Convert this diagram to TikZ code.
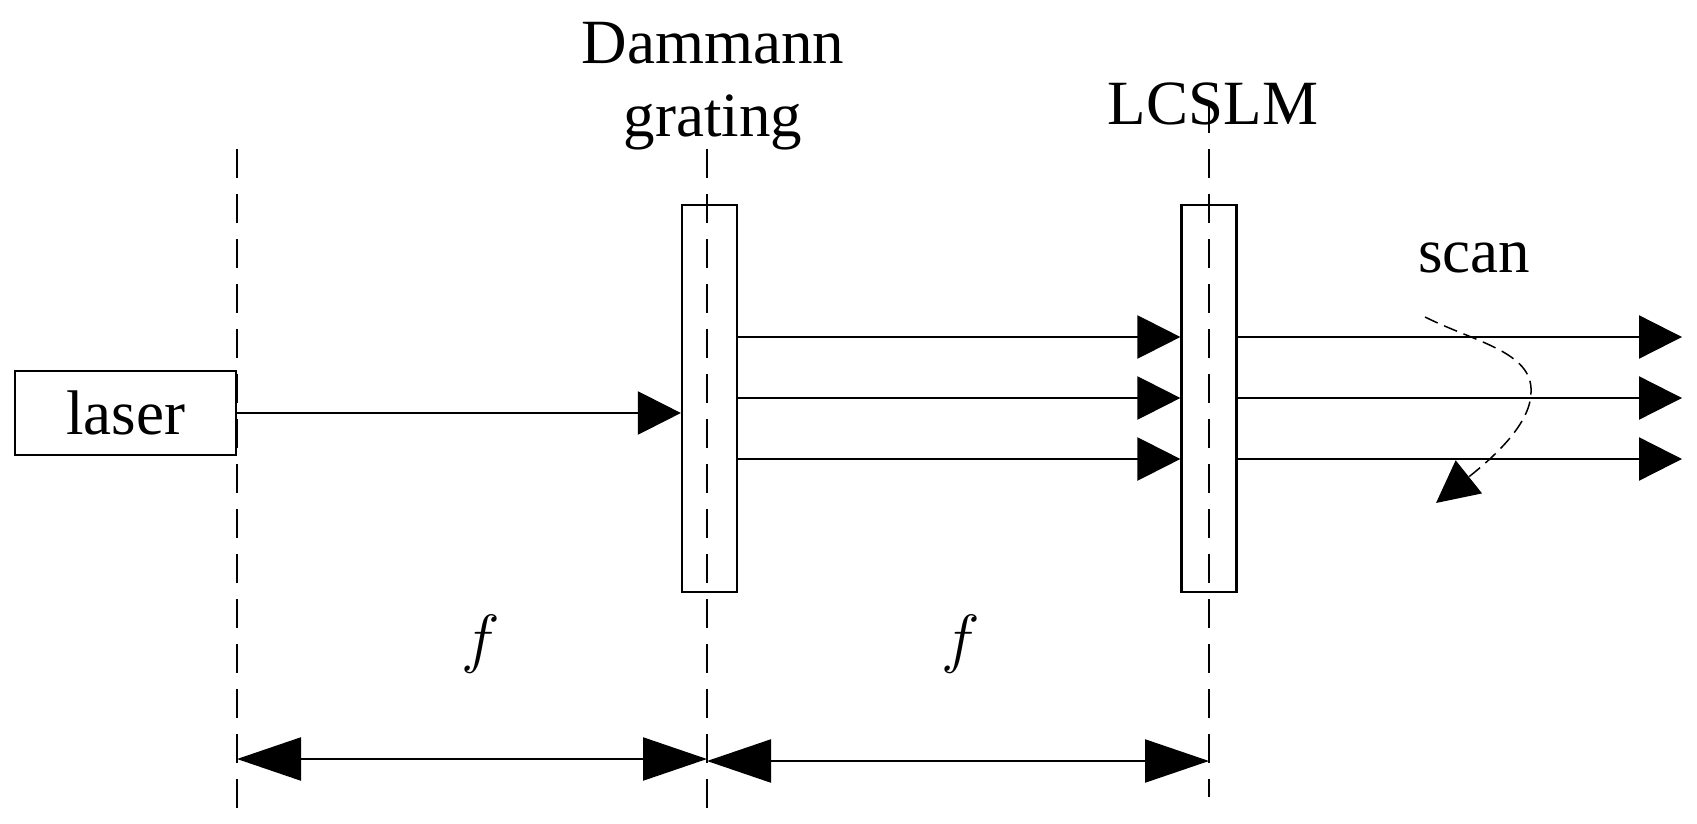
\documentclass[tikz,border=0pt]{standalone}
\usepackage{graphicx}
\usepackage{fontspec}
\setmainfont{Liberation Serif}
\usetikzlibrary{arrows.meta}
\newcommand{\flabel}{\resizebox{!}{22.7pt}{$f$}}
\begin{document}
\begin{tikzpicture}[x=0.5pt,y=-0.5pt,
  txt/.style={font=\fontsize{31.5}{31.5}\selectfont, inner sep=0pt},
  plate/.style={draw, line width=1.1pt, minimum width=27.5pt, minimum height=193.5pt, inner sep=0pt},
  axisline/.style={line width=0.8pt, dash pattern=on 14.5pt off 8pt},
  beam/.style={line width=1.15pt, -{Triangle[length=21.5pt,width=21.5pt]}},
  dimline/.style={line width=1.15pt, {Triangle[length=32pt,width=21.5pt]}-{Triangle[length=32pt,width=21.5pt]}},
  scanline/.style={line width=0.75pt, dash pattern=on 7pt off 3.5pt, -{Triangle[length=21pt,width=21pt]}}
]
\useasboundingbox (0,0) rectangle (1697,824);
% elements
\node[draw, line width=1.1pt, minimum width=110.5pt, minimum height=42pt, inner sep=0pt, txt] (laser) at (125.5,413) {laser};
\node[plate] (grating) at (709.5,398.5) {};
\node[plate] (lcslm) at (1209,398.5) {};
% labels
\node[txt, anchor=base] (dam) at (713,64) {Dammann};
\node[txt, anchor=base] (grt) at (713,137) {grating};
\node[txt, anchor=base] (lcs) at (1213,125) {LCSLM};
\node[txt, anchor=base] (scan) at (1474,272) {scan};
\node[txt] (f1) at (481,644) {\flabel};
\node[txt] (f2) at (961,644) {\flabel};
% optical axes
\coordinate (a1t) at (237,149); \coordinate (a1b) at (237,808);
\coordinate (a2t) at (707,149); \coordinate (a2b) at (707,808);
\coordinate (a3t) at (1209,104); \coordinate (a3b) at (1209,797);
\draw[axisline] (a1t) -- (a1b);
\draw[axisline] (a2t) -- (a2b);
\draw[axisline] (a3t) -- (a3b);
% beams
\draw[beam] (laser.east) -- (laser.east -| grating.west);
\foreach \y/\n in {337/1,398/2,459/3}{
  \coordinate (o\n) at (1682,\y);
  \draw[beam] (grating.east |- o\n) -- (lcslm.west |- o\n);
  \draw[beam] (lcslm.east |- o\n) -- (o\n);
}
% scan arrow
\coordinate (s0) at (1425,317);
\coordinate (s1) at (1531,392);
\coordinate (s2) at (1436,503);
\draw[scanline] (s0) .. controls (1475,342) and (1533,352) .. (s1) .. controls (1531,425) and (1490,460) .. (s2);
% dimension arrows
\coordinate (d1) at (237,759); \coordinate (d2) at (707,759);
\coordinate (d3) at (707,761); \coordinate (d4) at (1209,761);
\draw[dimline] (d1) -- (d2);
\draw[dimline] (d3) -- (d4);
\end{tikzpicture}
\end{document}
